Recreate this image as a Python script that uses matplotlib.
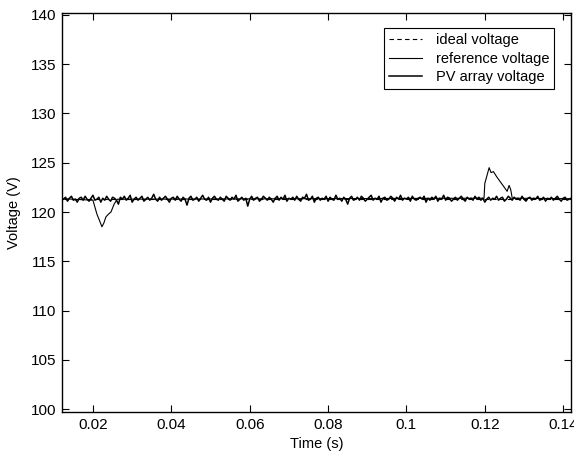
import numpy as np
import matplotlib.pyplot as plt

plt.rcParams['font.family'] = ['Liberation Sans', 'DejaVu Sans']

pv_volt = [
    121.3, 121.5, 121.1, 121.4, 121.6, 121.2, 121.3, 121.0, 121.4, 121.5,
    121.2, 121.6, 121.3, 121.1, 121.4, 121.7, 121.2, 121.3, 121.5, 121.0,
    121.4, 121.2, 121.6, 121.3, 121.1, 121.5, 121.4, 121.2, 120.8, 121.5,
    121.3, 121.6, 121.2, 121.4, 121.7, 121.0, 121.3, 121.5, 121.2, 121.4,
    121.6, 121.1, 121.3, 121.5, 121.2, 121.4, 121.8, 121.3, 121.1, 121.5,
    121.2, 121.4, 121.6, 121.3, 121.0, 121.4, 121.5, 121.2, 121.6, 121.3,
    121.1, 121.5, 121.3, 120.7, 121.4, 121.6, 121.2, 121.3, 121.5, 121.1,
    121.4, 121.7, 121.3, 121.2, 121.5, 121.0, 121.4, 121.6, 121.3, 121.2,
    121.5, 121.3, 121.1, 121.6, 121.4, 121.2, 121.5, 121.3, 121.7, 121.1,
    121.3, 121.5, 121.2, 121.4, 120.6, 121.3, 121.6, 121.2, 121.4, 121.5,
    121.1, 121.3, 121.6, 121.4, 121.2, 121.5, 121.3, 121.0, 121.4, 121.6,
    121.2, 121.5, 121.3, 121.7, 121.1, 121.4, 121.3, 121.5, 121.2, 121.6,
    121.3, 121.1, 121.5, 121.4, 121.8, 121.2, 121.3, 121.6, 121.0, 121.4,
    121.5, 121.2, 121.4, 121.3, 121.6, 121.1, 121.5, 121.3, 121.2, 121.7,
    121.3, 121.4, 121.1, 121.5, 121.3, 120.8, 121.4, 121.6, 121.2, 121.3,
    121.5, 121.2, 121.6, 121.4, 121.1, 121.3, 121.5, 121.7, 121.2, 121.4,
    121.3, 121.6, 121.0, 121.4, 121.5, 121.2, 121.3, 121.6, 121.4, 121.1,
    121.5, 121.3, 121.7, 121.2, 121.4, 121.3, 121.5, 121.1, 121.6, 121.3,
    121.2, 121.4, 121.5, 121.3, 121.6, 121.0, 121.4, 121.2, 121.5, 121.3,
    121.6, 121.1, 121.4, 121.3, 121.7, 121.2, 121.5, 121.4, 121.1, 121.3,
    121.5, 121.2, 121.4, 121.6, 121.3, 121.1, 121.5, 121.3, 121.4, 121.2,
    121.6, 121.3, 121.5, 121.2, 121.4, 121.0, 121.3, 121.5, 121.2, 121.4,
    121.3, 121.6, 121.2, 121.4, 121.5, 121.1, 121.3, 121.6, 121.4, 121.2,
    121.5, 121.3, 121.4, 121.2, 121.6, 121.3, 121.1, 121.4, 121.5, 121.2,
    121.4, 121.3, 121.6, 121.2, 121.3, 121.5, 121.1, 121.4, 121.3, 121.5,
    121.2, 121.4, 121.6, 121.3, 121.1, 121.4, 121.5, 121.2, 121.3, 121.4,
    121.3, 121.5,
]
t_start, t_step = 0.0125, 0.0005
pv_time = t_start + t_step * np.arange(len(pv_volt))

# --- reference voltage (dip after start, bump at 0.12 s) ---
ref_time = [0.0125, 0.0200, 0.0210, 0.0223, 0.0228, 0.0233, 0.0240, 0.0246,
            0.0254, 0.0262, 0.1198, 0.1200, 0.1211, 0.1216, 0.1222, 0.1230,
            0.1239, 0.1248, 0.1257, 0.1262, 0.1266, 0.1270, 0.1420]
ref_volt = [121.35, 121.2, 119.8, 118.5, 118.9, 119.5, 119.8, 120.0,
            120.8, 121.3, 121.4, 122.9, 124.5, 124.0, 124.1, 123.6,
            123.1, 122.6, 122.1, 122.7, 122.3, 121.4, 121.35]

# --- ideal voltage ---
ideal_time = [0.0125, 0.1420]
ideal_volt = [121.3, 121.3]

fig = plt.figure(figsize=(5.74, 4.55), dpi=100)
ax = fig.add_axes([0.108, 0.0945, 0.8868, 0.8769])

ax.plot(ideal_time, ideal_volt, color='k', ls=(0, (4, 3)), lw=0.8, label='ideal voltage')
ax.plot(ref_time, ref_volt, color='k', lw=0.8, label='reference voltage')
ax.plot(pv_time, pv_volt, color='k', lw=1.1, label='PV array voltage')

ax.set_xlim(0.0121, 0.1420)
ax.set_ylim(99.7, 140.2)
ax.set_xticks([0.02, 0.04, 0.06, 0.08, 0.1, 0.12, 0.14])
ax.set_xticklabels(['0.02', '0.04', '0.06', '0.08', '0.1', '0.12', '0.14'])
ax.set_yticks(np.arange(100, 141, 5))
ax.tick_params(direction='in', top=True, right=True, length=5, labelsize=11, pad=4)
for s in ax.spines.values():
    s.set_linewidth(1.0)

ax.set_xlabel('Time (s)', fontsize=10.5, labelpad=4)
ax.set_ylabel('Voltage (V)', fontsize=10.5, labelpad=7)

leg = ax.legend(loc='upper right', bbox_to_anchor=(0.967, 0.962), fontsize=10.5,
                frameon=True, fancybox=False, edgecolor='k', framealpha=1,
                handlelength=2.3, borderpad=0.35, labelspacing=0.3, handletextpad=0.9,
                borderaxespad=0)
leg.get_frame().set_linewidth(0.8)

fig.savefig('out.png', dpi=100)
